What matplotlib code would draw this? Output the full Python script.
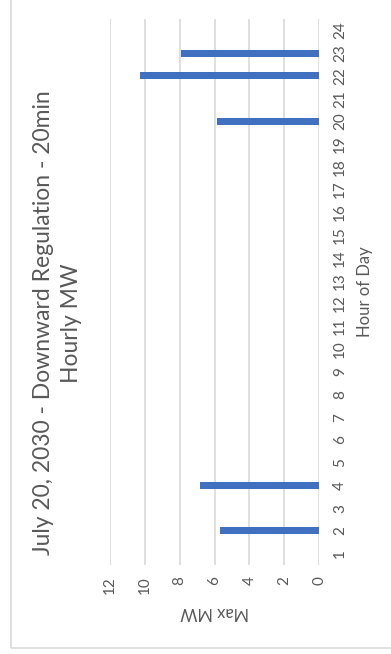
import matplotlib
matplotlib.use('Agg')
import matplotlib.pyplot as plt
from matplotlib.patches import Rectangle

hours = list(range(1, 25))
max_mw = [0, 5.7, 0, 6.85, 0, 0, 0, 0, 0, 0, 0, 0,
          0, 0, 0, 0, 0, 0, 0, 5.85, 0, 10.3, 7.9, 0]
value_ticks = [0, 2, 4, 6, 8, 10, 12]
title = 'July 20, 2030 - Downward Regulation - 20min\nHourly MW'

plt.rcParams['font.family'] = ['Lato', 'DejaVu Sans']
grey = '#595959'
W, H = 391, 654

fig = plt.figure(figsize=(W / 100, H / 100), dpi=100)

# chart border
fig.patches.append(Rectangle((11 / W, 6 / H), 1, 1, transform=fig.transFigure,
                             fill=False, edgecolor='#D9D9D9', linewidth=1.2))

ax = fig.add_axes([110 / W, (H - 565) / H, (319 - 110) / W, (565 - 19) / H])
ax.barh(hours, max_mw, height=0.3, color='#4170C0', zorder=3)
ax.set_xlim(12, 0)
ax.set_ylim(0.5, 24.5)
ax.set_xticks(value_ticks)
ax.set_xticklabels([str(v) for v in value_ticks], rotation=90, color=grey, fontsize=11)
ax.set_yticks(hours)
ax.set_yticklabels([str(h) for h in hours], rotation=90, color=grey, fontsize=11,
                   va='center')
ax.yaxis.tick_right()
ax.yaxis.set_label_position('right')
ax.tick_params(axis='both', length=0)
ax.tick_params(axis='x', pad=8)
ax.tick_params(axis='y', pad=10)
ax.grid(axis='x', color='#D9D9D9', linewidth=1.2, zorder=0)
for s in ax.spines.values():
    s.set_visible(False)

ax.set_xlabel('Max MW', rotation=180, color=grey, fontsize=12, labelpad=7)
ax.set_ylabel('Hour of Day', rotation=90, color=grey, fontsize=12, labelpad=7)

fig.text(57.5 / W, 1 - 323 / H, title, rotation=90, ha='center', va='center',
         multialignment='center', color=grey, fontsize=16.5, linespacing=1.45)

fig.savefig('out.png', dpi=100)
